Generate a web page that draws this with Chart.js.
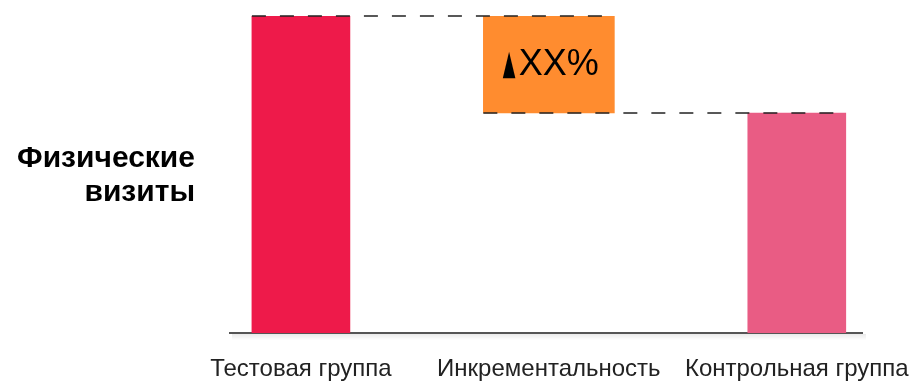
<!DOCTYPE html>
<html><head><meta charset="utf-8">
<script src="https://cdn.jsdelivr.net/npm/chart.js@4.4.0/dist/chart.umd.min.js"></script>
<style>html,body{margin:0;padding:0;background:#fff}#wrap{width:910px;height:383px}</style>
</head><body><div id="wrap"><canvas id="c" width="910" height="383"></canvas></div>
<script>
const categories = ["Тестовая группа", "Инкрементальность", "Контрольная группа"];
const testValue = 100;
const controlValue = 69.4;
const deltaLabel = "XX%";
const axisTitleLines = ["Физические", "визиты"];
const colors = ["#EE1A4A", "#FF8C2F", "#E95C84"];

const FONT = "'Liberation Sans', Arial, Helvetica, sans-serif";

const datasets = [
  { data: [{x: 0, y: [0, testValue]}], backgroundColor: colors[0], barThickness: 98, grouped: false },
  { data: [{x: 1, y: [controlValue, testValue]}], backgroundColor: colors[1], barThickness: 131, grouped: false },
  { data: [{x: 2, y: [0, controlValue]}], backgroundColor: colors[2], barThickness: 98, grouped: false }
];

const overlay = {
  id: 'overlay',
  beforeDatasetsDraw(chart) {
    const {ctx, chartArea} = chart;
    const y = chart.scales.y.getPixelForValue(0);
    ctx.save();
    for (let i = 1; i <= 6; i++) {
      ctx.strokeStyle = 'rgba(0,0,0,' + (0.09 - i * 0.013) + ')';
      ctx.lineWidth = 1;
      ctx.beginPath();
      ctx.moveTo(chartArea.left + 2, y + i + 0.5);
      ctx.lineTo(chartArea.right + 4, y + i + 0.5);
      ctx.stroke();
    }
    ctx.restore();
  },
  afterDatasetsDraw(chart) {
    const {ctx, chartArea} = chart;
    const b0 = chart.getDatasetMeta(0).data[0];
    const b1 = chart.getDatasetMeta(1).data[0];
    const b2 = chart.getDatasetMeta(2).data[0];
    const yTop = chart.scales.y.getPixelForValue(testValue);
    const yCtl = chart.scales.y.getPixelForValue(controlValue);
    ctx.save();
    ctx.strokeStyle = '#222';
    ctx.lineWidth = 1.5;
    ctx.setLineDash([14, 14]);
    ctx.beginPath();
    ctx.moveTo(b0.x - b0.width / 2, yTop);
    ctx.lineTo(b1.x + b1.width / 2, yTop);
    ctx.stroke();
    ctx.beginPath();
    ctx.moveTo(b1.x - b1.width / 2, yCtl);
    ctx.lineTo(b2.x + b2.width / 2, yCtl);
    ctx.stroke();
    ctx.setLineDash([]);

    // delta label
    const cy = (yTop + yCtl) / 2;
    ctx.fillStyle = '#000';
    ctx.textBaseline = 'middle';
    ctx.font = '36px ' + FONT;
    const tw = ctx.measureText(deltaLabel).width;
    const triW = 14, gap = 2;
    const total = triW + gap + tw;
    const startX = b1.x + 2 - total / 2;
    ctx.save();
    ctx.translate(startX, cy + 1);
    ctx.scale(0.55, 1.15);
    ctx.textAlign = 'left';
    ctx.font = '30px DejaVu Sans';
    ctx.fillText('▲', 0, 0);
    ctx.restore();
    ctx.textAlign = 'left';
    ctx.fillText(deltaLabel, startX + triW + gap, cy + 1);

    // axis title
    ctx.font = 'bold 30px ' + FONT;
    ctx.textAlign = 'right';
    ctx.textBaseline = 'alphabetic';
    ctx.fillStyle = '#000';
    const midY = (chartArea.top + chartArea.bottom) / 2;
    const tx = chartArea.left - 35;
    ctx.fillText(axisTitleLines[0], tx, midY - 8);
    ctx.fillText(axisTitleLines[1], tx, midY + 26);
    ctx.restore();
  }
};

new Chart(document.getElementById('c'), {
  type: 'bar',
  data: { datasets },
  options: {
    responsive: false,
    animation: false,
    layout: { padding: { left: 230, right: 48, top: 16, bottom: 0 } },
    plugins: { legend: { display: false }, tooltip: { enabled: false } },
    scales: {
      x: {
        type: 'linear',
        offset: false,
        min: -0.286,
        max: 2.263,
        grid: { display: false, drawTicks: false },
        border: { display: true, color: '#555', width: 2 },
        afterBuildTicks(scale) { scale.ticks = categories.map((c, i) => ({ value: i })); },
        afterFit(scale) {
          scale.height = 50;
          scale.paddingLeft = 0;
          scale.paddingRight = 0;
        },
        ticks: {
          autoSkip: false,
          maxRotation: 0,
          padding: 22,
          color: '#222',
          font: { family: FONT, size: 24 },
          callback: (v) => categories[v]
        }
      },
      y: { display: false, min: 0, max: 100 }
    }
  },
  plugins: [overlay]
});
</script></body></html>
